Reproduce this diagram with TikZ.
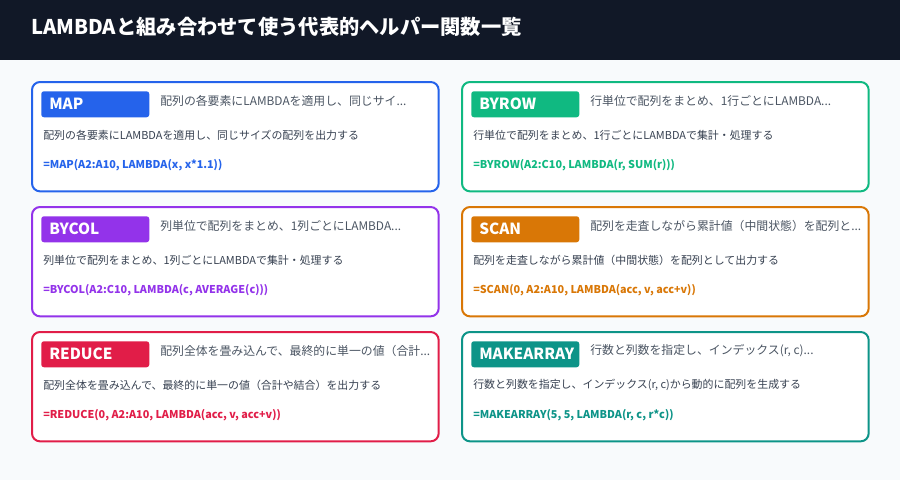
\documentclass[tikz,border=0pt]{standalone}
\usepackage{fontspec}
\setmainfont{Noto Sans CJK JP}
\definecolor{hdr}{HTML}{111827}
\definecolor{bg}{HTML}{F8FAFC}
\definecolor{cA}{HTML}{2563EB}
\definecolor{cB}{HTML}{10B981}
\definecolor{cC}{HTML}{9333EA}
\definecolor{cD}{HTML}{D97706}
\definecolor{cE}{HTML}{E11D48}
\definecolor{cF}{HTML}{0D9488}
\definecolor{txt}{HTML}{374151}
\definecolor{sub}{HTML}{4B5563}
\begin{document}
\begin{tikzpicture}[x=0.75pt,y=-0.75pt,
 card/.style={draw=#1,line width=1.5pt,fill=white,rounded corners=6pt},
 tag/.style={fill=#1,rounded corners=2pt,minimum width=81pt,minimum height=19.5pt,inner sep=0pt},
 tagt/.style={anchor=west,text=white,font=\bfseries\fontsize{11.5}{13}\selectfont,inner sep=0pt},
 head/.style={anchor=west,text=sub,font=\fontsize{8.9}{10}\selectfont,inner sep=0pt},
 desc/.style={anchor=west,text=txt,font=\fontsize{8.2}{9}\selectfont,inner sep=0pt},
 form/.style={anchor=west,text=#1,font=\bfseries\fontsize{8.1}{9}\selectfont,inner sep=0pt}]
\useasboundingbox (0,0) rectangle (900,480);
\fill[bg] (0,0) rectangle (900,480);
\fill[hdr] (0,0) rectangle (900,60);
\node[anchor=west,text=white,font=\bfseries\fontsize{15.2}{17}\selectfont,inner sep=0pt] (title) at (31,27) {LAMBDAと組み合わせて使う代表的ヘルパー関数一覧};
\newcommand{\mycard}[8]{%
 \node[card=#3,minimum width=305pt,minimum height=82pt,anchor=north west,inner sep=0pt] (#8) at (#1,#2) {};
 \node[tag=#3,anchor=north west] (#8t) at ([shift={(10,10)}]#8.north west) {};
 \node[tagt] (#8n) at ([shift={(8,0)}]#8t.west) {#4};
 \node[head] (#8h) at ([shift={(129,20)}]#8.north west) {#5};
 \node[desc] (#8d) at ([shift={(12,54)}]#8.north west) {#6};
 \node[form=#3] (#8f) at ([shift={(12,84)}]#8.north west) {#7};
}
\mycard{31}{81}{cA}{MAP}{配列の各要素にLAMBDAを適用し、同じサイ...}{配列の各要素にLAMBDAを適用し、同じサイズの配列を出力する}{=MAP(A2:A10, LAMBDA(x, x*1.1))}{m1}
\mycard{461}{81}{cB}{BYROW}{行単位で配列をまとめ、1行ごとにLAMBDA...}{行単位で配列をまとめ、1行ごとにLAMBDAで集計・処理する}{=BYROW(A2:C10, LAMBDA(r, SUM(r)))}{m2}
\mycard{31}{206}{cC}{BYCOL}{列単位で配列をまとめ、1列ごとにLAMBDA...}{列単位で配列をまとめ、1列ごとにLAMBDAで集計・処理する}{=BYCOL(A2:C10, LAMBDA(c, AVERAGE(c)))}{m3}
\mycard{461}{206}{cD}{SCAN}{配列を走査しながら累計値（中間状態）を配列と...}{配列を走査しながら累計値（中間状態）を配列として出力する}{=SCAN(0, A2:A10, LAMBDA(acc, v, acc+v))}{m4}
\mycard{31}{331}{cE}{REDUCE}{配列全体を畳み込んで、最終的に単一の値（合計...}{配列全体を畳み込んで、最終的に単一の値（合計や結合）を出力する}{=REDUCE(0, A2:A10, LAMBDA(acc, v, acc+v))}{m5}
\mycard{461}{331}{cF}{MAKEARRAY}{行数と列数を指定し、インデックス(r, c)...}{行数と列数を指定し、インデックス(r, c)から動的に配列を生成する}{=MAKEARRAY(5, 5, LAMBDA(r, c, r*c))}{m6}
\end{tikzpicture}
\end{document}
